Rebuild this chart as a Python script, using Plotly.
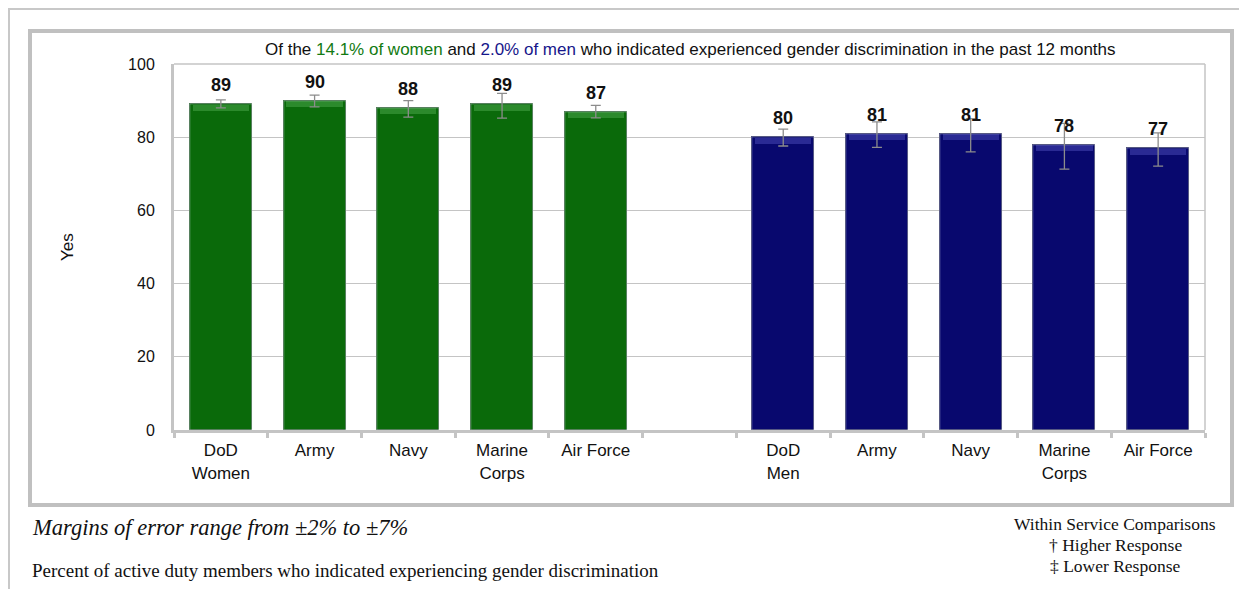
import plotly.graph_objects as go

# ---- data ----
women_labels = ["DoD<br>Women", "Army", "Navy", "Marine<br>Corps", "Air Force"]
men_labels = ["DoD<br>Men", "Army", "Navy", "Marine<br>Corps", "Air Force"]
women_vals = [89, 90, 88, 89, 87]
men_vals = [80, 81, 81, 78, 77]
women_err_plus = [1.2, 1.5, 2.0, 3.0, 1.7]
women_err_minus = [1.0, 1.7, 2.5, 3.8, 1.7]
men_err_plus = [2.2, 3.2, 4.1, 5.8, 4.2]
men_err_minus = [2.4, 3.8, 5.0, 6.7, 4.9]
y_ticks = [0, 20, 40, 60, 80, 100]

women_x = list(range(0, 5))
men_x = list(range(6, 11))

GREEN = "#0a6a0a"
GREEN_LIGHT = "#2c8a2c"
NAVY = "#08086e"
NAVY_LIGHT = "#2a2a94"
GRID = "#c4c4c4"

fig = go.Figure()

err_style = dict(type="data", symmetric=False, color="#8c8c8c", thickness=1.3, width=5)

fig.add_trace(go.Bar(
    x=women_x, y=women_vals, width=0.66,
    marker=dict(color=GREEN, line=dict(color="#044004", width=1)),
    showlegend=False, hoverinfo="skip"))
fig.add_trace(go.Bar(
    x=men_x, y=men_vals, width=0.66,
    marker=dict(color=NAVY, line=dict(color="#03033f", width=1)),
    showlegend=False, hoverinfo="skip"))

# bevel highlight strip at the top of each bar
bev = 1.6
fig.add_trace(go.Bar(
    x=women_x, y=[bev] * len(women_vals), base=[v - bev - 0.15 for v in women_vals],
    width=0.6, marker=dict(color=GREEN_LIGHT, line=dict(width=0)),
    showlegend=False, hoverinfo="skip"))
fig.add_trace(go.Bar(
    x=men_x, y=[bev] * len(men_vals), base=[v - bev - 0.15 for v in men_vals],
    width=0.6, marker=dict(color=NAVY_LIGHT, line=dict(width=0)),
    showlegend=False, hoverinfo="skip"))

# error bars on top (invisible bars carrying them)
fig.add_trace(go.Bar(
    x=women_x, y=women_vals, width=0.66, marker=dict(color="rgba(0,0,0,0)"),
    error_y=dict(array=women_err_plus, arrayminus=women_err_minus, **err_style),
    showlegend=False, hoverinfo="skip"))
fig.add_trace(go.Bar(
    x=men_x, y=men_vals, width=0.66, marker=dict(color="rgba(0,0,0,0)"),
    error_y=dict(array=men_err_plus, arrayminus=men_err_minus, **err_style),
    showlegend=False, hoverinfo="skip"))

# value labels
for xs, vs in ((women_x, women_vals), (men_x, men_vals)):
    for x, v in zip(xs, vs):
        fig.add_annotation(x=x, y=v, text=f"<b>{v}</b>", showarrow=False,
                           xanchor="center", yanchor="bottom", yshift=7,
                           font=dict(family="Arial, Liberation Sans", size=18, color="#111111"))

# page body has an 8px margin, so work in page pixels and offset
OFF = 8
W, H = 1247 - OFF, 589 - OFF
L, R, T, B = 174 - OFF, 1205 - OFF, 64 - OFF, 430 - OFF
pw, ph = R - L, B - T


def px(x):
    return (x - OFF - L) / pw


def py(y):
    return (B - (y - OFF)) / ph


fig.update_layout(
    width=W, height=H,
    margin=dict(l=L, r=W - R, t=T, b=H - B),
    paper_bgcolor="white", plot_bgcolor="white",
    barmode="overlay", bargap=0,
    font=dict(family="Arial, Liberation Sans", size=16, color="#111111"),
    xaxis=dict(
        range=[-0.5, 10.5],
        tickmode="array", tickvals=women_x + men_x, ticktext=women_labels + men_labels,
        ticks="", showgrid=False, zeroline=False,
        showline=True, linecolor=GRID, linewidth=3,
        minor=dict(ticks="outside", tick0=-0.5, dtick=1, ticklen=5, tickcolor=GRID, tickwidth=3,
                   showgrid=False),
        tickfont=dict(size=17, color="#111111"),
        ticklabelstandoff=3,
        fixedrange=True,
    ),
    yaxis=dict(
        range=[0, 100], tickvals=y_ticks,
        showgrid=True, gridcolor=GRID, gridwidth=1,
        zeroline=False, showline=True, linecolor=GRID, linewidth=3,
        ticks="", tickfont=dict(size=16, color="#111111"),
        ticklabelstandoff=13, fixedrange=True,
    ),
)

shapes = []
# plot area border (top / right)
shapes.append(dict(type="line", xref="paper", yref="paper", x0=0, x1=1, y0=1, y1=1,
                   line=dict(color=GRID, width=1.5)))
shapes.append(dict(type="line", xref="paper", yref="paper", x0=1, x1=1, y0=0, y1=1,
                   line=dict(color=GRID, width=1.5)))
# inner thick frame
shapes.append(dict(type="rect", xref="paper", yref="paper",
                   x0=px(30), x1=px(1232), y0=py(505), y1=py(31),
                   line=dict(color="#c0c0c0", width=4), fillcolor="rgba(0,0,0,0)", layer="below"))
# outer thin frame (top and left edges)
shapes.append(dict(type="line", xref="paper", yref="paper", x0=px(8), x1=px(1247), y0=py(9), y1=py(9),
                   line=dict(color="#c8c8c8", width=2)))
shapes.append(dict(type="line", xref="paper", yref="paper", x0=px(9), x1=px(9), y0=py(8), y1=py(600),
                   line=dict(color="#c8c8c8", width=2)))
fig.update_layout(shapes=shapes)

# chart title
fig.add_annotation(
    xref="paper", yref="paper", x=px(690), y=py(49), showarrow=False,
    xanchor="center", yanchor="middle",
    text=("Of the <span style='color:#127a12'>14.1% of women</span> and "
          "<span style='color:#16168a'>2.0% of men</span> who indicated experienced gender "
          "discrimination in the past 12 months"),
    font=dict(family="Arial, Liberation Sans", size=17, color="#111111"))

# y axis title
fig.add_annotation(xref="paper", yref="paper", x=px(67), y=py(247), text="Yes", textangle=-90,
                   xanchor="center", yanchor="middle",
                   showarrow=False, font=dict(family="Arial, Liberation Sans", size=17, color="#111111"))

serif = "Times New Roman, Liberation Serif, serif"
fig.add_annotation(xref="paper", yref="paper", x=px(30), y=py(527), xanchor="left", yanchor="middle",
                   text="<i>Margins of error range from ±2% to ±7%</i>", showarrow=False,
                   font=dict(family=serif, size=22.5, color="#111111"))
fig.add_annotation(xref="paper", yref="paper", x=px(30), y=py(570), xanchor="left", yanchor="middle",
                   text="Percent of active duty members who indicated experiencing gender discrimination",
                   showarrow=False, font=dict(family=serif, size=19, color="#111111"))
for txt, yy in (("Within Service Comparisons", 524), ("† Higher Response", 545), ("‡ Lower Response", 566)):
    fig.add_annotation(xref="paper", yref="paper", x=px(1115), y=py(yy), text=txt, showarrow=False,
                       xanchor="center", yanchor="middle",
                       font=dict(family=serif, size=17.5, color="#111111"))

fig.write_html("out.html")
